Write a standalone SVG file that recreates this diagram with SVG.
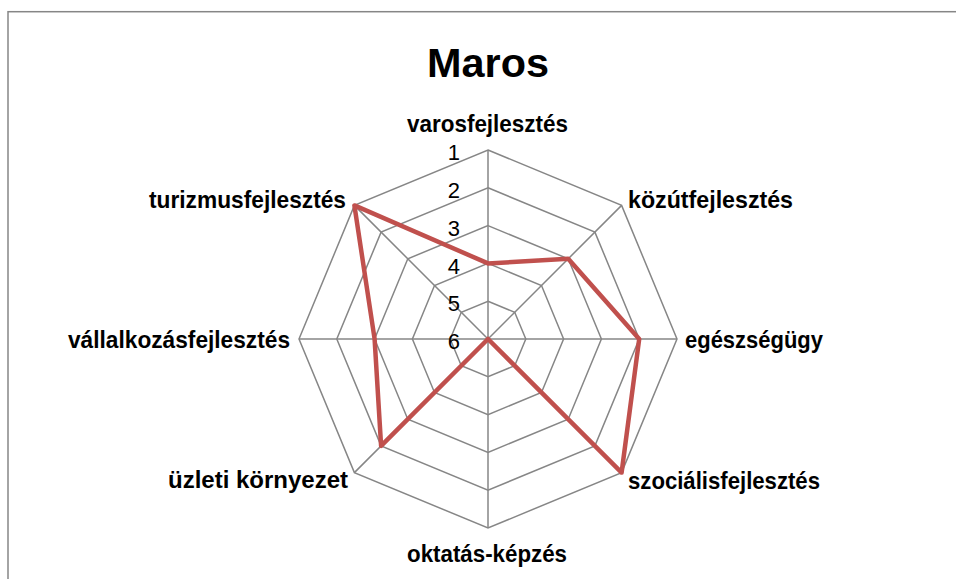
<svg xmlns="http://www.w3.org/2000/svg" width="956" height="579" viewBox="0 0 956 579">
<style>
.grid{fill:none;stroke:#868686;stroke-width:1.5}
.lbl{font-family:"Liberation Sans",Arial,sans-serif;font-weight:bold;font-size:24px;fill:#000}
.num{font-family:"Liberation Sans",Arial,sans-serif;font-size:22px;fill:#000;text-anchor:end}
.data{fill:none;stroke:#C0504D;stroke-width:4.5;stroke-linejoin:round}
</style>
<rect x="0" y="0" width="956" height="579" fill="#fff"/>
<rect x="8" y="11.7" width="1000" height="600" fill="none" stroke="#868686" stroke-width="1.5"/>
<text id="title" x="427" y="77" class="lbl" style="font-size:41px" textLength="122" lengthAdjust="spacingAndGlyphs">Maros</text>
<g id="grid">
<polygon class="grid" points="488,150 621.6,205.4 677,339 621.6,472.6 488,528 354.4,472.6 299,339 354.4,205.4"/>
<polygon class="grid" points="488,187.8 594.9,232.1 639.2,339 594.9,445.9 488,490.2 381.1,445.9 336.8,339 381.1,232.1"/>
<polygon class="grid" points="488,225.6 568.2,258.8 601.4,339 568.2,419.2 488,452.4 407.8,419.2 374.6,339 407.8,258.8"/>
<polygon class="grid" points="488,263.4 541.5,285.5 563.6,339 541.5,392.5 488,414.6 434.5,392.5 412.4,339 434.5,285.5"/>
<polygon class="grid" points="488,301.2 514.7,312.3 525.8,339 514.7,365.7 488,376.8 461.3,365.7 450.2,339 461.3,312.3"/>
<path class="grid" d="M488,339L488,150M488,339L621.6,205.4M488,339L677,339M488,339L621.6,472.6M488,339L488,528M488,339L354.4,472.6M488,339L299,339M488,339L354.4,205.4"/>
</g>
<g id="scale">
<text class="num" x="460" y="160">1</text>
<text class="num" x="460" y="198">2</text>
<text class="num" x="460" y="236">3</text>
<text class="num" x="460" y="274">4</text>
<text class="num" x="460" y="311">5</text>
<text class="num" x="460" y="349">6</text>
</g>
<g id="connectors">
<polygon id="series" class="data" points="488,263.4 568.2,258.8 639.2,339 621.6,472.6 488,339 381.1,445.9 374.6,339 354.4,205.4"/>
</g>
<g id="n-varos"><text class="lbl" x="407" y="132" textLength="161" lengthAdjust="spacingAndGlyphs">varosfejlesztés</text></g>
<g id="n-kozut"><text class="lbl" x="628" y="208" textLength="165" lengthAdjust="spacingAndGlyphs">közútfejlesztés</text></g>
<g id="n-egeszseg"><text class="lbl" x="685" y="348" textLength="138" lengthAdjust="spacingAndGlyphs">egészségügy</text></g>
<g id="n-szocialis"><text class="lbl" x="628" y="489" textLength="192" lengthAdjust="spacingAndGlyphs">szociálisfejlesztés</text></g>
<g id="n-oktatas"><text class="lbl" x="407" y="562" textLength="160" lengthAdjust="spacingAndGlyphs">oktatás-képzés</text></g>
<g id="n-uzleti"><text class="lbl" x="168" y="488" textLength="180" lengthAdjust="spacingAndGlyphs">üzleti környezet</text></g>
<g id="n-vallalkozas"><text class="lbl" x="68" y="348" textLength="222" lengthAdjust="spacingAndGlyphs">vállalkozásfejlesztés</text></g>
<g id="n-turizmus"><text class="lbl" x="149" y="208" textLength="197" lengthAdjust="spacingAndGlyphs">turizmusfejlesztés</text></g>
</svg>
